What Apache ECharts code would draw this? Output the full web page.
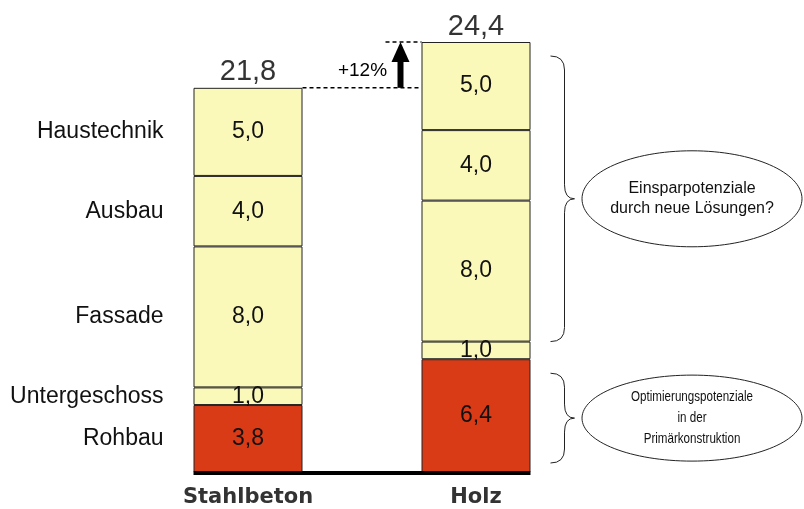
<!DOCTYPE html>
<html lang="de">
<head>
	<meta charset="UTF-8">
	<title>Stahlbeton / Holz</title>
	<script src="https://cdn.jsdelivr.net/npm/echarts@6/dist/echarts.min.js"></script>
	<style>
		html,body{margin:0;width:100%;height:100%;background:#fff;}
		#chart{width:804px;height:509px;}
	</style>
</head>
<body>
	<div id="chart"></div>
<script>
	// Daten
	var categories = ['Stahlbeton', 'Holz'];
	var rohbau = [3.8, 6.4];
	var untergeschoss = [1.0, 1.0];
	var fassade = [8.0, 8.0];
	var ausbau = [4.0, 4.0];
	var haustechnik = [5.0, 5.0];
	var totals = [21.8, 24.4];
	var increaseText = '+12%';
	var noteTop = 'Einsparpotenziale\ndurch neue Lösungen?';
	var noteBottom = 'Optimierungspotenziale\nin der\nPrimärkonstruktion';

	var FONT = '"Liberation Sans", Arial, sans-serif';
	var YELLOW = '#fbf9b9';
	var RED = '#d93b17';

	function komma (v) {
		return v.toFixed(1).replace('.', ',');
	}

	var segs = [
		{name: 'Rohbau', data: rohbau, color: RED},
		{name: 'Untergeschoss', data: untergeschoss, color: YELLOW},
		{name: 'Fassade', data: fassade, color: YELLOW},
		{name: 'Ausbau', data: ausbau, color: YELLOW},
		{name: 'Haustechnik', data: haustechnik, color: YELLOW}
	];

	var seriesArr = [];
	for (var i = 0; i < segs.length; i++) {
		seriesArr.push({
			name: segs[i].name,
			type: 'bar',
			stack: 'gesamt',
			barWidth: 109,
			data: segs[i].data,
			itemStyle: {color: segs[i].color, borderColor: '#222', borderWidth: 1},
			label: {
				show: true,
				position: 'inside',
				fontFamily: FONT,
				fontSize: 23,
				color: '#111',
				formatter: function (p) { return komma(p.value); }
			},
			emphasis: {disabled: true}
		});
	}
	// Summen ueber den Balken
	seriesArr.push({
		type: 'scatter',
		symbolSize: 0,
		data: [[0, totals[0]], [1, totals[1]]],
		label: {
			show: true,
			position: 'top',
			distance: 1,
			fontFamily: FONT,
			fontSize: 29,
			color: '#000',
			formatter: function (p) { return komma(p.value[1]); }
		},
		z: 5
	});

	var myChart = echarts.init(document.getElementById('chart'));
	myChart.setOption({
		animation: false,
		grid: {left: 134, right: 214, top: 42, bottom: 37},
		xAxis: {
			type: 'category',
			data: categories,
			axisLine: {show: false},
			axisTick: {show: false},
			axisLabel: {
				margin: 15,
				fontFamily: '"DejaVu Sans", sans-serif',
				fontWeight: 'bold',
				fontSize: 21,
				color: '#333'
			}
		},
		yAxis: {type: 'value', min: 0, max: 24.4, show: false, splitLine: {show: false}},
		series: seriesArr
	});

	// Annotationen aus Achsen-Koordinaten
	function px (cat, val) {
		return myChart.convertToPixel({seriesIndex: 0}, [cat, val]);
	}
	var half = 109 / 2;
	var p0 = px(0, 0), p1 = px(1, 0);
	var sLeft = p0[0] - half, sRight = p0[0] + half;
	var hLeft = p1[0] - half, hRight = p1[0] + half;
	var yBase = p0[1];
	var yS = px(0, totals[0])[1];
	var yH = px(1, totals[1])[1];

	var g = [];
	// Grundlinie
	g.push({type: 'line', shape: {x1: sLeft, y1: yBase + 1, x2: hRight, y2: yBase + 1},
		style: {stroke: '#000', lineWidth: 4}, z: 10});
	// gestrichelte Linien
	g.push({type: 'line', shape: {x1: sRight, y1: yS, x2: hLeft, y2: yS},
		style: {stroke: '#000', lineWidth: 1.5, lineDash: [4, 3]}, z: 10});
	g.push({type: 'line', shape: {x1: hLeft - 36, y1: yH, x2: hLeft, y2: yH},
		style: {stroke: '#000', lineWidth: 1.5, lineDash: [4, 3]}, z: 10});
	// Pfeil
	var ax = hLeft - 21;
	g.push({type: 'rect', shape: {x: ax - 3, y: yH + 16, width: 6, height: yS - yH - 16},
		style: {fill: '#000'}, z: 10});
	g.push({type: 'polygon', shape: {points: [[ax - 9, yH + 20], [ax + 9, yH + 20], [ax, yH]]},
		style: {fill: '#000'}, z: 10});
	g.push({type: 'text', x: ax - 38, y: (yS + yH) / 2 + 6,
		style: {text: increaseText, font: '19px ' + FONT, fill: '#000', align: 'center', verticalAlign: 'middle'}, z: 10});

	// linke Beschriftung
	var acc = 0;
	for (var i = 0; i < segs.length; i++) {
		var v = segs[i].data[0];
		var ym = px(0, acc + v / 2)[1];
		acc += v;
		g.push({type: 'text', x: sLeft - 30, y: ym,
			style: {text: segs[i].name, font: '23px ' + FONT, fill: '#111', align: 'right', verticalAlign: 'middle'}});
	}

	// geschweifte Klammern
	function brace (x, y1, y2) {
		var xm = x + 14, xt = x + 24, r = 14, ym = (y1 + y2) / 2;
		var st = {stroke: '#222', fill: null, lineWidth: 1};
		g.push({type: 'bezierCurve', shape: {x1: x, y1: y1, cpx1: xm, cpy1: y1, x2: xm, y2: y1 + r}, style: st});
		g.push({type: 'line', shape: {x1: xm, y1: y1 + r, x2: xm, y2: ym - r}, style: st});
		g.push({type: 'bezierCurve', shape: {x1: xm, y1: ym - r, cpx1: xm, cpy1: ym, x2: xt, y2: ym}, style: st});
		g.push({type: 'bezierCurve', shape: {x1: xt, y1: ym, cpx1: xm, cpy1: ym, x2: xm, y2: ym + r}, style: st});
		g.push({type: 'line', shape: {x1: xm, y1: ym + r, x2: xm, y2: y2 - r}, style: st});
		g.push({type: 'bezierCurve', shape: {x1: xm, y1: y2 - r, cpx1: xm, cpy1: y2, x2: x, y2: y2}, style: st});
	}
	var bx = hRight + 20;
	var b1y1 = yH + 14, b1y2 = px(1, rohbau[1] + untergeschoss[1])[1];
	var b2y1 = px(1, rohbau[1])[1] + 14, b2y2 = yBase - 9;
	brace(bx, b1y1, b1y2);
	brace(bx, b2y1, b2y2);

	// Ellipsen mit Text
	var ex = 692;
	var e1y = (b1y1 + b1y2) / 2, e2y = (b2y1 + b2y2) / 2;
	g.push({type: 'ellipse', shape: {cx: ex, cy: e1y, rx: 110, ry: 48},
		style: {stroke: '#222', fill: '#fff', lineWidth: 1}});
	g.push({type: 'text', x: ex, y: e1y, z: 2,
		style: {text: noteTop, font: '16px ' + FONT, fill: '#111', align: 'center', verticalAlign: 'middle', lineHeight: 20}});
	g.push({type: 'ellipse', shape: {cx: ex, cy: e2y, rx: 110, ry: 43},
		style: {stroke: '#222', fill: '#fff', lineWidth: 1}});
	g.push({type: 'text', x: ex, y: e2y, z: 2, scaleX: 0.8,
		style: {text: noteBottom, font: '14.5px ' + FONT, fill: '#111', align: 'center', verticalAlign: 'middle', lineHeight: 21}});

	myChart.setOption({graphic: g});
</script>
</body>
</html>
